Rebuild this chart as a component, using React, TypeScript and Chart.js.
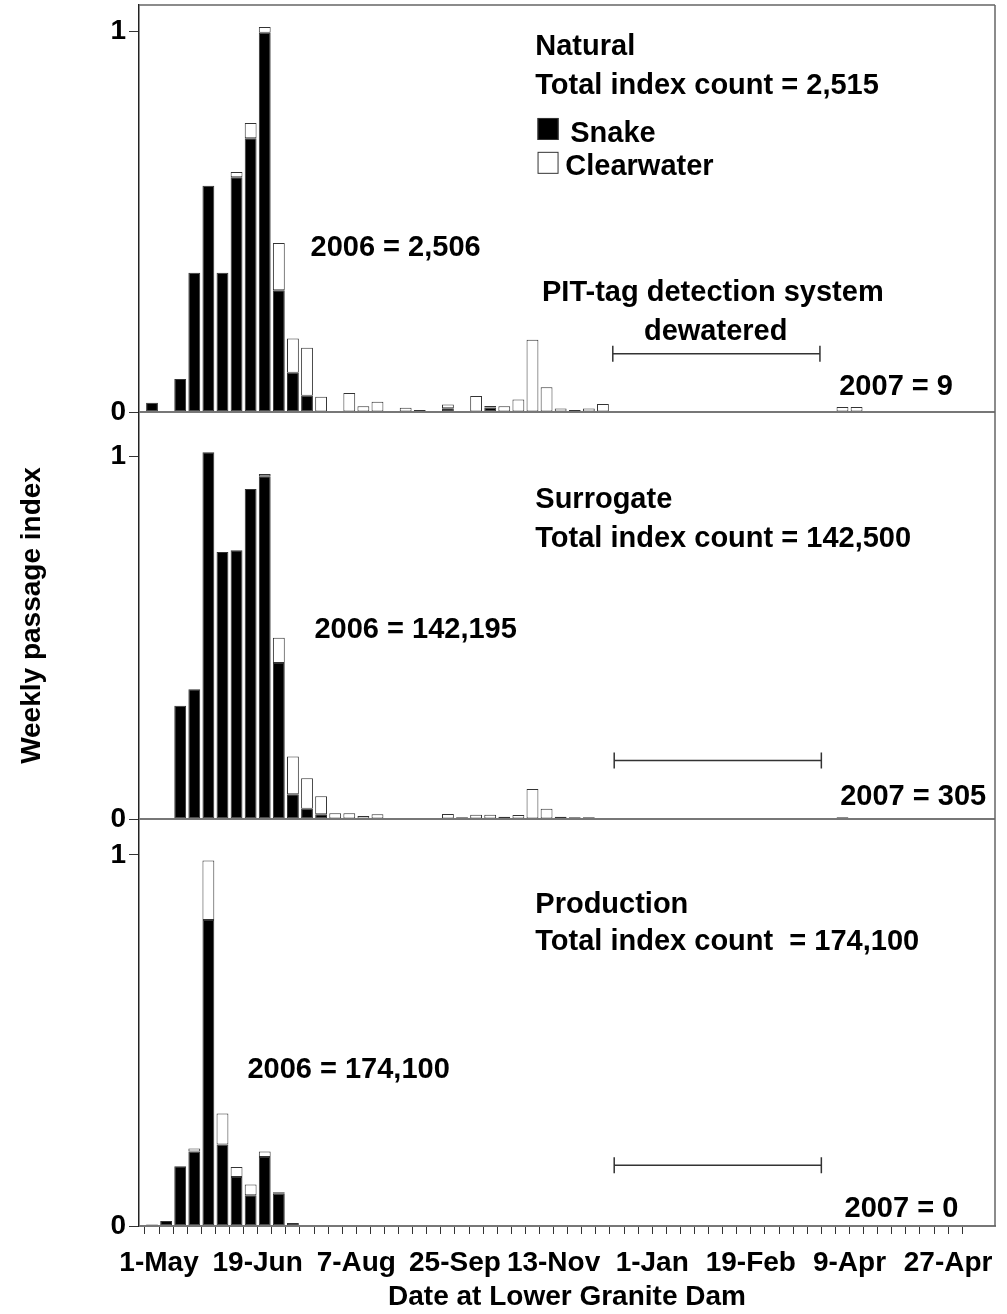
import React, { useEffect, useRef } from 'react';
import { Chart, registerables } from 'chart.js';

Chart.register(...registerables);

const _ = null;

// ---------- data (weekly passage index, week 0 = 1-May) ----------
const tickLabels = ['1-May', '19-Jun', '7-Aug', '25-Sep', '13-Nov', '1-Jan', '19-Feb', '9-Apr', '27-Apr'];
const TICK_LABEL_EVERY = 7;
const tickWeeks = Array.from({ length: 58 }, (_v, i) => i);
const yTickValues = [0, 1];

const naturalSnake = [0.024, _, 0.087, 0.366, 0.595, 0.366, 0.617, 0.72, 0.997, 0.32, 0.103, 0.043, _, _, _, _, _, _, _, _, _, 0.01, _, _, 0.012];
const naturalClear = [_, _, _, _, _, _, 0.014, 0.04, 0.015, 0.124, 0.09, 0.126, 0.04, _, 0.05, 0.015, 0.027, _, 0.011, 0.005, _, 0.01, _, 0.042, 0.004, 0.015, 0.033, 0.19, 0.065, 0.009, 0.005, 0.009, 0.021, _, _, _, _, _, _, _, _, _, _, _, _, _, _, _, _, 0.013, 0.013];

const surrogateSnake = [_, _, 0.312, 0.358, 1.011, 0.736, 0.741, 0.91, 0.945, 0.43, 0.068, 0.028, 0.013];
const surrogateClear = [_, _, _, _, _, _, _, _, 0.006, 0.07, 0.104, 0.084, 0.05, 0.016, 0.016, 0.008, 0.013, _, _, _, _, 0.014, 0.005, 0.012, 0.012, 0.006, 0.011, 0.083, 0.028, 0.006, 0.005, 0.005, _, _, _, _, _, _, _, _, _, _, _, _, _, _, _, _, _, 0.005];

const productionSnake = [0.004, 0.0135, 0.161, 0.201, 0.825, 0.22, 0.132, 0.083, 0.186, 0.087, 0.008];
const productionClear = [_, _, _, 0.008, 0.16, 0.083, 0.027, 0.029, 0.015, 0.004];

const seriesNames = ['Snake', 'Clearwater'];
const panelAxisIds = ['yN', 'yS', 'yP'];
const panelNames = ['Natural', 'Surrogate', 'Production'];
const panelTotals = ['Total index count = 2,515', 'Total index count = 142,500', 'Total index count  = 174,100'];
const panel2006 = ['2006 = 2,506', '2006 = 142,195', '2006 = 174,100'];
const panel2007 = ['2007 = 9', '2007 = 305', '2007 = 0'];
const panelMax = [1.07, 1.122, 1.097];
const dewateredText = ['PIT-tag detection system', 'dewatered'];
const dewateredSpan = [[32.7, 47.4], [32.8, 47.5], [32.8, 47.5]];

// ---------- annotation placement (week index, index value) ----------
const namePos = [[27.2, 0.939], [27.2, 0.858], [27.2, 0.844]];
const totalPos = [[27.2, 0.836], [27.2, 0.75], [27.2, 0.744]];
const pos2006 = [[11.25, 0.409], [11.53, 0.499], [6.77, 0.398]];
const pos2007 = [[48.77, 0.046], [48.84, 0.039], [49.15, 0.024]];
const bracketLevel = [0.153, 0.161, 0.164];
const dewateredTextPos = [[39.8, 0.291], [40.0, 0.19]];
const legendSquarePos = [[27.36, 0.773], [27.36, 0.684]];
const legendTextPos = [[29.68, 0.711], [29.33, 0.624]];

const FONT_FAMILY = '"Liberation Sans", Arial, Helvetica, sans-serif';
const NOTE_FONT = `bold 29px ${FONT_FAMILY}`;
const font = (size: number) => ({ family: FONT_FAMILY, size, weight: 'bold' as const });

const toPoints = (arr: (number | null)[]) => arr.map((v, i) => ({ x: i, y: v }));

const annotationPlugin = {
  id: 'panelAnnotations',
  afterDatasetsDraw(chart: any) {
    const { ctx, chartArea: ca, scales } = chart;
    const xs = scales.x;
    ctx.save();
    // panel frames
    ctx.strokeStyle = '#777';
    ctx.lineWidth = 2;
    panelAxisIds.forEach((id) => {
      const y0 = scales[id].getPixelForValue(0);
      ctx.beginPath();
      ctx.moveTo(ca.left, y0);
      ctx.lineTo(ca.right, y0);
      ctx.stroke();
    });
    ctx.lineWidth = 1.5;
    ctx.strokeStyle = '#666';
    ctx.beginPath();
    ctx.moveTo(ca.left, ca.top);
    ctx.lineTo(ca.right, ca.top);
    ctx.moveTo(ca.right, ca.top);
    ctx.lineTo(ca.right, ca.bottom);
    ctx.stroke();

    ctx.fillStyle = '#000';
    ctx.font = NOTE_FONT;
    ctx.textBaseline = 'alphabetic';
    panelAxisIds.forEach((id, p) => {
      const ys = scales[id];
      const put = (text: string, pos: number[], align: CanvasTextAlign = 'left') => {
        ctx.textAlign = align;
        ctx.fillText(text, xs.getPixelForValue(pos[0]), ys.getPixelForValue(pos[1]));
      };
      put(panelNames[p], namePos[p]);
      put(panelTotals[p], totalPos[p]);
      put(panel2006[p], pos2006[p]);
      put(panel2007[p], pos2007[p]);
      // dewatered bracket
      const by = ys.getPixelForValue(bracketLevel[p]);
      const bx0 = xs.getPixelForValue(dewateredSpan[p][0]);
      const bx1 = xs.getPixelForValue(dewateredSpan[p][1]);
      ctx.strokeStyle = '#333';
      ctx.lineWidth = 1.5;
      ctx.beginPath();
      ctx.moveTo(bx0, by);
      ctx.lineTo(bx1, by);
      ctx.moveTo(bx0, by - 8);
      ctx.lineTo(bx0, by + 8);
      ctx.moveTo(bx1, by - 8);
      ctx.lineTo(bx1, by + 8);
      ctx.stroke();
      if (p === 0) {
        put(dewateredText[0], dewateredTextPos[0], 'center');
        put(dewateredText[1], dewateredTextPos[1], 'center');
        // legend
        const fills = ['#000', '#fff'];
        legendSquarePos.forEach((sp, k) => {
          const sx = xs.getPixelForValue(sp[0]);
          const sy = ys.getPixelForValue(sp[1]);
          ctx.fillStyle = fills[k];
          ctx.fillRect(sx, sy, 21, 22);
          ctx.strokeStyle = '#333';
          ctx.lineWidth = 1;
          ctx.strokeRect(sx + 0.5, sy + 0.5, 20, 21);
          ctx.fillStyle = '#000';
          put(seriesNames[k], legendTextPos[k]);
        });
      }
    });
    ctx.restore();
  },
};

const barStyle = {
  type: 'bar' as const,
  grouped: false,
  categoryPercentage: 1,
  barPercentage: 0.84,
  borderWidth: 1,
  borderSkipped: false,
  borderColor: '#333',
};

const yAxis = (max: number, weight: number, title?: string) => ({
  type: 'linear',
  position: 'left',
  stack: 'panels',
  stackWeight: 1,
  weight,
  stacked: true,
  min: 0,
  max,
  afterBuildTicks: (s: any) => {
    s.ticks = yTickValues.map((v) => ({ value: v }));
  },
  afterFit: (s: any) => {
    s.width = 139;
    s.paddingTop = 0;
    s.paddingBottom = 0;
  },
  ticks: { font: font(28), color: '#000', padding: 3, autoSkip: false, callback: (v: any) => String(v) },
  grid: { drawOnChartArea: false, drawTicks: true, tickLength: 10, color: '#333', lineWidth: 1 },
  border: { display: true, color: '#222', width: 1.5 },
  title: title
    ? { display: true, text: title, font: font(28), color: '#000', padding: { top: 15, bottom: 0 } }
    : { display: false },
});

export default function App() {
  const ref = useRef<HTMLCanvasElement | null>(null);
  useEffect(() => {
    if (!ref.current) return;
    const chart = new Chart(ref.current, {
      type: 'bar',
      data: {
        datasets: [
          { ...barStyle, label: seriesNames[0], data: toPoints(naturalSnake), yAxisID: 'yN', backgroundColor: '#000' },
          { ...barStyle, label: seriesNames[1], data: toPoints(naturalClear), yAxisID: 'yN', backgroundColor: '#fff' },
          { ...barStyle, label: seriesNames[0], data: toPoints(surrogateSnake), yAxisID: 'yS', backgroundColor: '#000' },
          { ...barStyle, label: seriesNames[1], data: toPoints(surrogateClear), yAxisID: 'yS', backgroundColor: '#fff' },
          { ...barStyle, label: seriesNames[0], data: toPoints(productionSnake), yAxisID: 'yP', backgroundColor: '#000' },
          { ...barStyle, label: seriesNames[1], data: toPoints(productionClear), yAxisID: 'yP', backgroundColor: '#fff' },
        ] as any,
      },
      options: {
        animation: false,
        responsive: false,
        events: [],
        layout: { padding: { top: 5, right: 12, left: 0, bottom: 0 } },
        plugins: { legend: { display: false }, tooltip: { enabled: false }, title: { display: false } },
        scales: {
          x: {
            type: 'linear',
            min: -0.4,
            max: 59.3,
            afterBuildTicks: (s: any) => {
              s.ticks = tickWeeks.map((v) => ({ value: v }));
            },
            afterFit: (s: any) => {
              s.height = 88;
            },
            ticks: {
              autoSkip: false,
              maxRotation: 0,
              minRotation: 0,
              labelOffset: 7,
              padding: 12,
              font: font(28),
              color: '#000',
              callback: (v: any) => (v % TICK_LABEL_EVERY === 0 ? tickLabels[v / TICK_LABEL_EVERY] ?? '' : ''),
            },
            grid: { drawOnChartArea: false, drawTicks: true, tickLength: 8, color: '#333' },
            border: { display: true, color: '#777', width: 2 },
            title: { display: true, text: 'Date at Lower Granite Dam', font: font(28), color: '#000', padding: { top: 0, bottom: 0 } },
          },
          yN: yAxis(panelMax[0], 3),
          yS: yAxis(panelMax[1], 2, 'Weekly passage index'),
          yP: yAxis(panelMax[2], 1),
        } as any,
      },
      plugins: [annotationPlugin],
    });
    return () => chart.destroy();
  }, []);
  return (
    <div style={{ position: 'absolute', left: 0, top: 0, width: 1007, height: 1314, background: '#fff' }}>
      <canvas ref={ref} width={1007} height={1314} style={{ display: 'block' }} />
    </div>
  );
}
